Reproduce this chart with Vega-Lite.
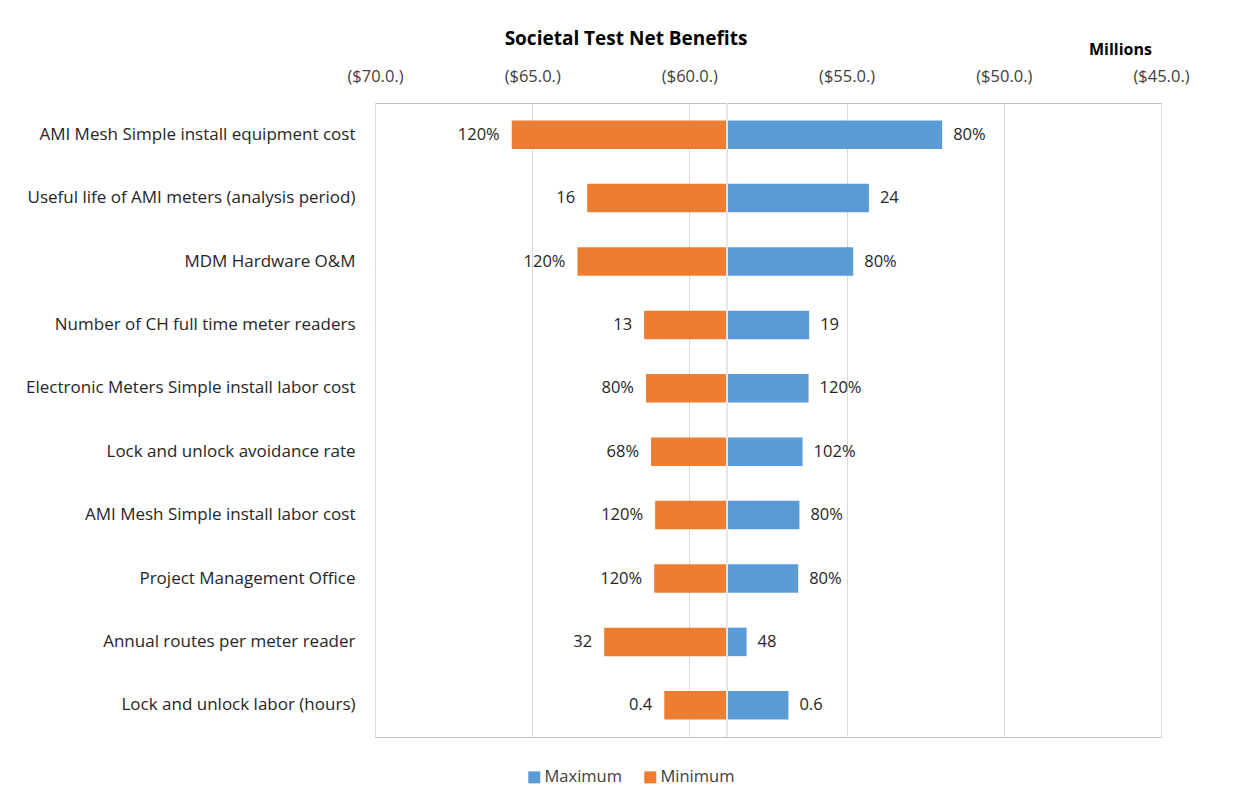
{
  "$schema": "https://vega.github.io/schema/vega-lite/v6.json",
  "width": 786,
  "height": 634,
  "autosize": {"type": "none"},
  "padding": {"left": 375, "top": 103, "right": 72, "bottom": 62},
  "background": "white",
  "title": {"text": "Societal Test Net Benefits", "font": "Open Sans", "fontSize": 19, "fontWeight": "bold", "color": "#000000", "anchor": "middle", "dx": -142, "offset": -8},
  "config": {
    "view": {"stroke": "#BFBFBF", "strokeWidth": 1},
    "font": "Open Sans"
  },
  "data": {
    "values": [
      {"factor": "AMI Mesh Simple install equipment cost", "series": "Minimum", "value": -65.65, "label": "120%"},
      {"factor": "AMI Mesh Simple install equipment cost", "series": "Maximum", "value": -51.96, "label": "80%"},
      {"factor": "Useful life of AMI meters (analysis period)", "series": "Minimum", "value": -63.25, "label": "16"},
      {"factor": "Useful life of AMI meters (analysis period)", "series": "Maximum", "value": -54.29, "label": "24"},
      {"factor": "MDM Hardware O&M", "series": "Minimum", "value": -63.56, "label": "120%"},
      {"factor": "MDM Hardware O&M", "series": "Maximum", "value": -54.79, "label": "80%"},
      {"factor": "Number of CH full time meter readers", "series": "Minimum", "value": -61.44, "label": "13"},
      {"factor": "Number of CH full time meter readers", "series": "Maximum", "value": -56.19, "label": "19"},
      {"factor": "Electronic Meters Simple install labor cost", "series": "Minimum", "value": -61.38, "label": "80%"},
      {"factor": "Electronic Meters Simple install labor cost", "series": "Maximum", "value": -56.21, "label": "120%"},
      {"factor": "Lock and unlock avoidance rate", "series": "Minimum", "value": -61.22, "label": "68%"},
      {"factor": "Lock and unlock avoidance rate", "series": "Maximum", "value": -56.4, "label": "102%"},
      {"factor": "AMI Mesh Simple install labor cost", "series": "Minimum", "value": -61.09, "label": "120%"},
      {"factor": "AMI Mesh Simple install labor cost", "series": "Maximum", "value": -56.5, "label": "80%"},
      {"factor": "Project Management Office", "series": "Minimum", "value": -61.12, "label": "120%"},
      {"factor": "Project Management Office", "series": "Maximum", "value": -56.54, "label": "80%"},
      {"factor": "Annual routes per meter reader", "series": "Minimum", "value": -62.71, "label": "32"},
      {"factor": "Annual routes per meter reader", "series": "Maximum", "value": -58.18, "label": "48"},
      {"factor": "Lock and unlock labor (hours)", "series": "Minimum", "value": -60.8, "label": "0.4"},
      {"factor": "Lock and unlock labor (hours)", "series": "Maximum", "value": -56.85, "label": "0.6"}
    ]
  },
  "encoding": {
    "y": {
      "field": "factor",
      "type": "nominal",
      "sort": null,
      "title": null,
      "scale": {"paddingInner": 0.55, "paddingOuter": 0.275},
      "axis": {"ticks": false, "domain": false, "labelFontSize": 17, "labelColor": "#262626", "labelPadding": 20, "labelLimit": 400}
    }
  },
  "layer": [
    {
      "mark": {"type": "bar"},
      "encoding": {
        "x": {
          "field": "value",
          "type": "quantitative",
          "scale": {"domain": [-70, -45], "nice": false, "zero": false},
          "axis": {
            "orient": "top",
            "values": [-70, -65, -60, -55, -50, -45],
            "labelExpr": "'($' + format(abs(datum.value), '.1f') + '.)'",
            "labelFlush": false,
            "grid": true,
            "gridColor": "#D9D9D9",
            "ticks": false,
            "domain": false,
            "labelFontSize": 16.5,
            "labelColor": "#404040",
            "labelPadding": 19,
            "title": "Millions",
            "titleFontSize": 16,
            "titleFontWeight": "bold",
            "titleColor": "#000000",
            "titleX": 745,
            "titleY": -46,
            "titleAlign": "center"
          }
        },
        "x2": {"datum": -58.8},
        "color": {
          "field": "series",
          "type": "nominal",
          "scale": {"domain": ["Maximum", "Minimum"], "range": ["#5B9BD5", "#ED7D31"]},
          "legend": {
            "orient": "none",
            "legendX": 151,
            "legendY": 666,
            "direction": "horizontal",
            "title": null,
            "symbolType": "square",
            "symbolSize": 144,
            "symbolStrokeWidth": 0,
            "labelFontSize": 16.5,
            "labelColor": "#404040",
            "columnPadding": 20,
            "labelOffset": 2
          }
        }
      }
    },
    {
      "mark": {"type": "rule", "color": "#E6E6E6", "strokeWidth": 1},
      "encoding": {"x": {"datum": -58.8}, "y": null}
    },
    {
      "transform": [{"filter": "datum.series === 'Minimum'"}],
      "mark": {"type": "text", "align": "right", "dx": -12, "fontSize": 16.5, "color": "#262626"},
      "encoding": {"x": {"field": "value", "type": "quantitative"}, "text": {"field": "label"}}
    },
    {
      "transform": [{"filter": "datum.series === 'Maximum'"}],
      "mark": {"type": "text", "align": "left", "dx": 11, "fontSize": 16.5, "color": "#262626"},
      "encoding": {"x": {"field": "value", "type": "quantitative"}, "text": {"field": "label"}}
    }
  ]
}
